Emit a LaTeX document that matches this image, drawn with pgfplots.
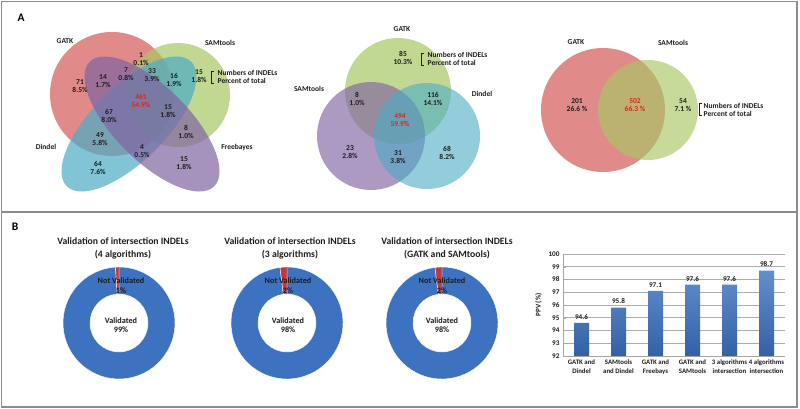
\documentclass[border=0pt]{standalone}
\usepackage{fontspec}
\setmainfont{Carlito}
\usepackage{pgfplots}
\pgfplotsset{compat=1.18}
\definecolor{vred}{HTML}{D45A58}
\definecolor{vgreen}{HTML}{A8C865}
\definecolor{vblue}{HTML}{4BACC6}
\definecolor{vpurple}{HTML}{8064A2}
\definecolor{dblue}{HTML}{3C72C0}
\definecolor{dred}{HTML}{C0393B}
\definecolor{txt}{HTML}{1E1E1E}
\definecolor{vnum}{HTML}{E02222}
\definecolor{framec}{HTML}{8C8C8C}
\newcommand{\vfont}{\fontsize{7.5}{8}\selectfont\bfseries}
\begin{document}
\begin{tikzpicture}[font=\bfseries]
\begin{axis}[at={(0pt,0pt)}, anchor=south west, scale only axis, width=800pt, height=409pt,
  xmin=0, xmax=800, ymin=0, ymax=409, y dir=reverse, hide axis, clip=false]
\fill[white] (axis cs:0,0) rectangle (axis cs:800,409);
% frame
\draw[framec, line width=1.4pt] (axis cs:1.5,1.5) rectangle (axis cs:797,407);
\draw[framec, line width=1.4pt] (axis cs:1.5,212) -- (axis cs:797,212);
\node[font=\fontsize{11.5}{12}\selectfont\bfseries] at (axis cs:21,18) {A};
\node[font=\fontsize{11.5}{12}\selectfont\bfseries] at (axis cs:15,227) {B};
% ---------- Venn 1 (4 sets)
\fill[vred, fill opacity=0.7] (axis cs:112,94) circle [radius=62pt];
\fill[vgreen, fill opacity=0.7] (axis cs:178,95) circle [radius=52pt];
\begin{scope}[shift={(axis cs:129,124)}, rotate=45]
\fill[vblue, fill opacity=0.7] (0pt,0pt) ellipse [x radius=88pt, y radius=37pt];
\end{scope}
\begin{scope}[shift={(axis cs:152,124)}, rotate=-45]
\fill[vpurple, fill opacity=0.7] (0pt,0pt) ellipse [x radius=88pt, y radius=37pt];
\end{scope}
\begin{scope}[every node/.style={font=\vfont, text=txt, align=center, inner sep=0.5pt}]
\node at (axis cs:65,41) {GATK};
\node at (axis cs:220,43) {SAMtools};
\node at (axis cs:46,147) {Dindel};
\node at (axis cs:237,147) {Freebayes};
\node at (axis cs:141,59.5) {1\\0.1\%};
\node at (axis cs:80,86.5) {71\\8.5\%};
\node at (axis cs:103,81.5) {14\\1.7\%};
\node at (axis cs:126,74) {7\\0.8\%};
\node at (axis cs:152,75) {33\\3.9\%};
\node at (axis cs:174,80) {16\\1.9\%};
\node at (axis cs:199,76) {15\\1.8\%};
\node[text=vnum] at (axis cs:141,100.5) {461\\54.9\%};
\node at (axis cs:109,115.5) {67\\8.0\%};
\node at (axis cs:168,111.5) {15\\1.8\%};
\node at (axis cs:100,139) {49\\5.8\%};
\node at (axis cs:186,131.5) {8\\1.0\%};
\node at (axis cs:142,151) {4\\0.5\%};
\node at (axis cs:98,168) {64\\7.6\%};
\node at (axis cs:184,163.5) {15\\1.8\%};
\node[anchor=west, align=left] at (axis cs:217,76.5) {Numbers of INDELs\\Percent of total};
\end{scope}
\draw[txt, line width=0.9pt] (axis cs:214,71) -- (axis cs:211,71) -- (axis cs:211,83) -- (axis cs:214,83);
% ---------- Venn 2 (3 sets)
\fill[vgreen, fill opacity=0.7] (axis cs:398,91) circle [radius=53pt];
\fill[vpurple, fill opacity=0.65] (axis cs:371,136) circle [radius=54pt];
\fill[vblue, fill opacity=0.6] (axis cs:427,136) circle [radius=53pt];
\begin{scope}[every node/.style={font=\vfont, text=txt, align=center, inner sep=0.5pt}]
\node at (axis cs:402,29) {GATK};
\node at (axis cs:309,89) {SAMtools};
\node at (axis cs:482,94) {Dindel};
\node at (axis cs:403,58) {85\\10.3\%};
\node at (axis cs:357,98.5) {8\\1.0\%};
\node at (axis cs:433,98.5) {116\\14.1\%};
\node[text=vnum] at (axis cs:400,120.5) {494\\59.9\%};
\node at (axis cs:350,152.5) {23\\2.8\%};
\node at (axis cs:398,157.5) {31\\3.8\%};
\node at (axis cs:447,152.5) {68\\8.2\%};
\node[anchor=west, align=left] at (axis cs:427,58.5) {Numbers of INDELs\\Percent of total};
\end{scope}
\draw[txt, line width=0.9pt] (axis cs:424,53) -- (axis cs:421,53) -- (axis cs:421,65) -- (axis cs:424,65);
% ---------- Venn 3 (2 sets)
\fill[vred, fill opacity=0.7] (axis cs:603,110) circle [radius=62pt];
\fill[vgreen, fill opacity=0.65] (axis cs:648,110) circle [radius=50pt];
\begin{scope}[every node/.style={font=\vfont, text=txt, align=center, inner sep=0.5pt}]
\node at (axis cs:576,42) {GATK};
\node at (axis cs:673,43) {SAMtools};
\node at (axis cs:577,105.5) {201\\26.6 \%};
\node[text=vnum] at (axis cs:635,105.5) {502\\66.3 \%};
\node at (axis cs:683,105.5) {54\\7.1 \%};
\node[anchor=west, align=left] at (axis cs:703,109.5) {Numbers of INDELs\\Percent of total};
\end{scope}
\draw[txt, line width=0.9pt] (axis cs:702,103) -- (axis cs:699,103) -- (axis cs:699,115) -- (axis cs:702,115);
% ---------- Donuts
% donut 1: 99 / 1
\begin{scope}[shift={(axis cs:119,323)}]
\fill[dblue, draw=white, line width=0.4pt] (93.6:56pt) arc[start angle=93.6, end angle=450, radius=56pt] -- (450:29pt) arc[start angle=450, end angle=93.6, radius=29pt] -- cycle;
\fill[dred, draw=white, line width=0.4pt] (90:56pt) arc[start angle=90, end angle=93.6, radius=56pt] -- (93.6:29pt) arc[start angle=93.6, end angle=90, radius=29pt] -- cycle;
\end{scope}
% donut 2: 98 / 2
\begin{scope}[shift={(axis cs:287,323)}]
\fill[dblue, draw=white, line width=0.4pt] (97.2:56pt) arc[start angle=97.2, end angle=450, radius=56pt] -- (450:29pt) arc[start angle=450, end angle=97.2, radius=29pt] -- cycle;
\fill[dred, draw=white, line width=0.4pt] (90:56pt) arc[start angle=90, end angle=97.2, radius=56pt] -- (97.2:29pt) arc[start angle=97.2, end angle=90, radius=29pt] -- cycle;
\end{scope}
% donut 3: 98 / 2
\begin{scope}[shift={(axis cs:442,323)}]
\fill[dblue, draw=white, line width=0.4pt] (97.2:56pt) arc[start angle=97.2, end angle=450, radius=56pt] -- (450:29pt) arc[start angle=450, end angle=97.2, radius=29pt] -- cycle;
\fill[dred, draw=white, line width=0.4pt] (90:56pt) arc[start angle=90, end angle=97.2, radius=56pt] -- (97.2:29pt) arc[start angle=97.2, end angle=90, radius=29pt] -- cycle;
\end{scope}
\begin{scope}[every node/.style={font=\fontsize{9.7}{12.5}\selectfont\bfseries, text=txt, align=center}]
\node at (axis cs:123,248.5) {Validation of intersection INDELs\\(4 algorithms)};
\node at (axis cs:290,248.5) {Validation of intersection INDELs\\(3 algorithms)};
\node at (axis cs:447,248.5) {Validation of intersection INDELs\\(GATK and SAMtools)};
\end{scope}
\begin{scope}[every node/.style={font=\fontsize{8.2}{9.5}\selectfont\bfseries, text=txt, align=center}]
\node at (axis cs:121,285.5) {Not Validated\\1\%};
\node at (axis cs:121,325) {Validated\\99\%};
\node at (axis cs:288,285.5) {Not Validated\\2\%};
\node at (axis cs:288,325) {Validated\\98\%};
\node at (axis cs:442,285.5) {Not Validated\\2\%};
\node at (axis cs:442,325) {Validated\\98\%};
\end{scope}
\end{axis}
% ---------- Bar chart
\begin{axis}[at={(563pt,53pt)}, anchor=south west, scale only axis, width=222pt, height=102pt,
  ymin=92, ymax=100, ytick={92,93,...,100}, xmin=-0.5, xmax=5.5,
  xtick={0,1,2,3,4,5},
  xticklabels={{GATK and\\Dindel},{SAMtools\\and Dindel},{GATK and\\Freebays},{GATK and\\SAMtools},{3 algorithms\\intersection},{4 algorithms\\intersection}},
  xticklabel style={align=center, font=\fontsize{6.8}{9}\selectfont\bfseries, text=txt, inner sep=1pt},
  yticklabel style={font=\fontsize{7.2}{8}\selectfont\bfseries, text=txt},
  ybar, bar width=15pt, bar shift=0pt,
  ymajorgrids, grid style={draw=gray!65, line width=0.6pt},
  axis x line*=bottom, axis y line*=left,
  axis line style={draw=gray!70, line width=0.6pt},
  ytick style={draw=gray!70}, xtick style={draw=none},
  major tick length=3pt,
  ylabel={PPV (\%)}, ylabel style={font=\fontsize{7.2}{8}\selectfont\bfseries, text=txt},
  nodes near coords,
  nodes near coords style={font=\fontsize{7.2}{8}\selectfont\bfseries, text=txt, /pgf/number format/fixed, /pgf/number format/precision=1, /pgf/number format/fixed zerofill},
  /pgf/number format/assume math mode=true,
  enlarge x limits=false]
\addplot[draw=none, top color=dblue!80!white, bottom color=dblue!85!black] coordinates {(0,94.6) (1,95.8) (2,97.1) (3,97.6) (4,97.6) (5,98.7)};
\end{axis}
\end{tikzpicture}
\end{document}
